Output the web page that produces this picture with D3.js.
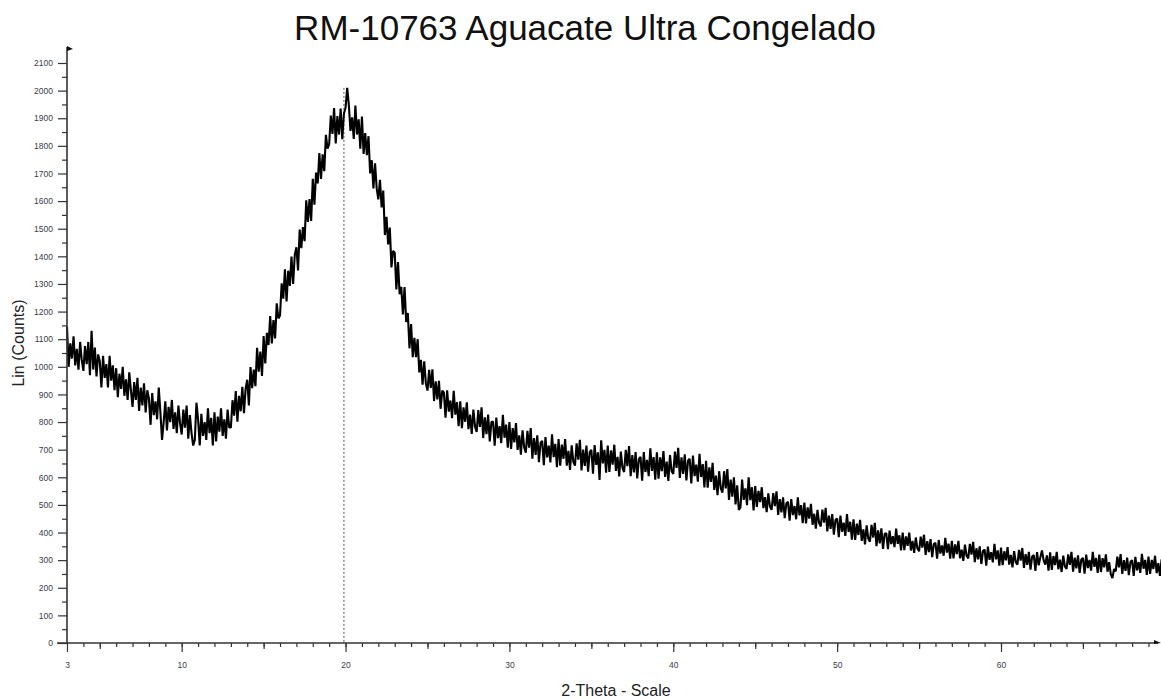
<!DOCTYPE html>
<html>
<head>
<meta charset="utf-8">
<script src="https://cdn.jsdelivr.net/npm/d3@7"></script>
<style>
  body { margin: 0; background: #fff; }
  svg { display: block; font-family: "Liberation Sans", Arial, sans-serif; }
</style>
</head>
<body>
<div id="chart"></div>
<script>
// Diffractogram: one count every 0.1 degree from 3 to 70
const thetaStart = 3;
const thetaStep = 0.1;
const counts = [
  1145, 1000, 1085, 1030, 1110, 1005, 1065, 990, 1090, 1025,   // 3
  985, 1075, 1010, 1090, 970, 1130, 990, 1070, 965, 1045,      // 4
  1020, 925, 1040, 960, 1010, 925, 1040, 950, 1005, 915,       // 5
  995, 890, 975, 920, 1000, 895, 955, 880, 980, 915,           // 6
  855, 945, 880, 960, 840, 925, 860, 940, 835, 915,            // 7
  885, 790, 905, 825, 875, 810, 925, 835, 735, 800,            // 8
  875, 770, 855, 800, 880, 775, 835, 760, 860, 795,            // 9
  755, 845, 780, 860, 740, 825, 760, 715, 735, 870,            // 10
  810, 715, 830, 750, 800, 735, 850, 760, 815, 715,            // 11
  835, 730, 820, 765, 850, 750, 810, 740, 845, 780,            // 12
  780, 879, 823, 912, 801, 895, 839, 928, 832, 921,            // 13
  953, 860, 999, 923, 990, 930, 1069, 982, 1055, 967,          // 14
  1111, 1012, 1123, 1079, 1184, 1085, 1169, 1103, 1230, 1175,  // 15
  1186, 1302, 1247, 1353, 1237, 1348, 1293, 1399, 1300, 1405,  // 16
  1433, 1349, 1497, 1430, 1506, 1455, 1603, 1525, 1607, 1528,  // 17
  1681, 1587, 1703, 1664, 1774, 1680, 1769, 1708, 1840, 1790,  // 18
  1806, 1910, 1843, 1937, 1809, 1908, 1841, 1935, 1824, 1917,  // 19
  1938, 2010, 1948, 1854, 1903, 1825, 1946, 1841, 1896, 1790,  // 20
  1906, 1771, 1846, 1766, 1835, 1700, 1748, 1646, 1737, 1646,  // 21
  1606, 1677, 1577, 1638, 1477, 1543, 1443, 1504, 1360, 1420,  // 22
  1413, 1280, 1379, 1263, 1290, 1190, 1289, 1162, 1195, 1067,  // 23
  1155, 1035, 1105, 1035, 1100, 980, 1025, 935, 1020, 940,     // 24
  914, 989, 924, 991, 876, 947, 882, 949, 848, 914,            // 25
  907, 816, 915, 838, 878, 814, 913, 827, 872, 785,            // 26
  875, 778, 853, 801, 871, 774, 827, 757, 845, 784,            // 27
  764, 843, 782, 853, 742, 817, 756, 827, 730, 800,            // 28
  802, 714, 816, 742, 785, 724, 826, 743, 791, 707,            // 29
  800, 703, 778, 726, 796, 699, 752, 682, 770, 709,            // 30
  689, 768, 707, 778, 667, 742, 681, 752, 655, 725,            // 31
  732, 644, 746, 672, 715, 654, 756, 673, 721, 637,            // 32
  738, 642, 718, 667, 738, 642, 696, 627, 716, 656,            // 33
  642, 723, 664, 736, 625, 700, 641, 715, 620, 691,            // 34
  699, 613, 717, 645, 690, 590, 734, 650, 699, 617,            // 35
  715, 619, 697, 646, 718, 623, 674, 603, 693, 634,            // 36
  619, 699, 640, 713, 604, 680, 618, 691, 596, 666,            // 37
  674, 588, 691, 619, 663, 604, 705, 623, 673, 591,            // 38
  690, 595, 672, 622, 695, 601, 657, 587, 680, 622,            // 39
  612, 693, 634, 707, 598, 672, 612, 683, 589, 660,            // 40
  667, 578, 679, 604, 646, 584, 685, 601, 648, 563,            // 41
  660, 562, 636, 583, 652, 554, 606, 535, 622, 560,            // 42
  544, 622, 560, 630, 518, 592, 530, 600, 502, 571,            // 43
  482, 491, 592, 518, 560, 499, 600, 517, 564, 480,            // 44
  568, 493, 551, 510, 564, 488, 528, 474, 542, 494,            // 45
  482, 543, 496, 549, 464, 521, 473, 527, 452, 506,            // 46
  511, 443, 521, 463, 496, 448, 527, 462, 499, 434,            // 47
  508, 433, 491, 450, 504, 428, 468, 414, 482, 434,            // 48
  422, 483, 436, 489, 404, 461, 413, 467, 392, 446,            // 49
  451, 383, 461, 403, 436, 388, 467, 402, 439, 374,            // 50
  448, 373, 432, 391, 446, 370, 411, 357, 426, 378,            // 51
  367, 428, 382, 435, 351, 408, 361, 415, 341, 395,            // 52
  398, 340, 407, 358, 387, 347, 414, 359, 390, 335,            // 53
  400, 336, 386, 352, 400, 335, 370, 326, 382, 342,            // 54
  332, 385, 345, 392, 319, 369, 329, 376, 311, 358,            // 55
  363, 305, 373, 324, 353, 316, 381, 327, 360, 305,            // 56
  370, 306, 357, 322, 370, 307, 338, 297, 356, 316,            // 57
  306, 359, 320, 366, 293, 343, 303, 350, 286, 333,            // 58
  338, 280, 349, 301, 329, 292, 359, 303, 335, 280,            // 59
  345, 282, 332, 299, 347, 284, 319, 274, 333, 293,            // 60
  284, 337, 298, 344, 272, 322, 283, 330, 266, 313,            // 61
  318, 261, 329, 281, 310, 335, 300, 284, 317, 262,            // 62
  328, 265, 315, 282, 330, 267, 302, 257, 316, 277,            // 63
  268, 321, 283, 330, 258, 309, 270, 317, 254, 302,            // 64
  308, 251, 320, 271, 301, 262, 330, 276, 308, 254,            // 65
  320, 257, 307, 274, 321, 258, 293, 249, 235, 268,            // 66
  259, 313, 274, 322, 250, 300, 261, 309, 246, 294,            // 67
  300, 243, 312, 263, 293, 254, 323, 269, 301, 247,            // 68
  313, 250, 301, 268, 316, 253, 289, 243, 303, 264,            // 69
  280                                                          // 70
];

const peakTheta = 19.9;
const peakCount = 2010;

const yTickValues = d3.range(0, 2101, 100);
const yMinorValues = d3.range(50, 2101, 100);
const xLabelValues = [3, 10, 20, 30, 40, 50, 60];
const xMidValues = [5, 15, 25, 35, 45, 55, 65];
const xMinorValues = d3.range(4, 70, 1);

const titleText = "RM-10763 Aguacate Ultra Congelado";
const xTitle = "2-Theta - Scale";
const yTitle = "Lin (Counts)";

let width = 1161;
let height = 699;

const svg = d3.select("#chart")
  .append("svg")
  .attr("width", width)
  .attr("height", height);

// scales matched to the reference: 3 deg at x=67, 60 deg at x=1001; 0 at y=643, 2100 at y=63
const x = d3.scaleLinear().domain([3, 60]).range([67, 1001]);
const y = d3.scaleLinear().domain([0, 2100]).range([643, 63]);

const data = counts.map((c, i) => ({ theta: thetaStart + i * thetaStep, count: c }));

// dashed marker at the peak
svg.append("line")
  .attr("x1", x(peakTheta)).attr("x2", x(peakTheta))
  .attr("y1", y(peakCount)).attr("y2", y(0))
  .attr("stroke", "#555")
  .attr("stroke-width", 1)
  .attr("stroke-dasharray", "2,2");

// the measurement - noise drawn dense so it reads as a band like the scan
const line = d3.line()
  .x(d => x(d.theta))
  .y(d => y(d.count));

svg.append("path")
  .datum(data)
  .attr("d", line)
  .attr("fill", "none")
  .attr("stroke", "#000")
  .attr("stroke-width", 2.1)
  .attr("stroke-linejoin", "bevel");

// y axis
const yAxisG = svg.append("g").attr("transform", "translate(" + x(3) + ",0)");
yAxisG.append("g")
  .call(d3.axisLeft(y).tickValues(yMinorValues).tickSize(5).tickFormat(""));
yAxisG.append("g")
  .call(d3.axisLeft(y).tickValues(yTickValues).tickSize(9).tickPadding(5).tickFormat(d3.format("d")));

// x axis
const xAxisG = svg.append("g").attr("transform", "translate(0," + y(0) + ")");
xAxisG.append("g")
  .call(d3.axisBottom(x).tickValues(xMinorValues).tickSize(4).tickFormat(""));
xAxisG.append("g")
  .call(d3.axisBottom(x).tickValues(xMidValues).tickSize(6).tickFormat(""));
xAxisG.append("g")
  .call(d3.axisBottom(x).tickValues(xLabelValues).tickSize(9).tickPadding(10).tickFormat(d3.format("d")));

svg.selectAll(".domain").remove();
svg.selectAll(".tick line").attr("stroke", "#333").attr("stroke-width", 1.2);
svg.selectAll(".tick text")
  .attr("fill", "#3a3a4a")
  .style("font-size", "8.5px")
  .style("font-family", "'Liberation Sans', Arial, sans-serif");

// axis lines with small arrow heads
svg.append("line")
  .attr("x1", x(3)).attr("x2", x(3))
  .attr("y1", y(0)).attr("y2", 47)
  .attr("stroke", "#333").attr("stroke-width", 1.6);
svg.append("line")
  .attr("x1", 57).attr("x2", 1158)
  .attr("y1", y(0)).attr("y2", y(0))
  .attr("stroke", "#333").attr("stroke-width", 1.6);
svg.append("path")
  .attr("d", `M${x(3)},46 L${x(3) + 6},49 L${x(3)},51 Z`)
  .attr("fill", "#111");
svg.append("path")
  .attr("d", `M1154,${y(0) - 3} L1161,${y(0)} L1154,${y(0) + 1} Z`)
  .attr("fill", "#111");

// titles
svg.append("text")
  .attr("x", 585).attr("y", 40)
  .attr("text-anchor", "middle")
  .style("font-size", "35px")
  .attr("fill", "#111")
  .text(titleText);

svg.append("text")
  .attr("x", 616).attr("y", 696)
  .attr("text-anchor", "middle")
  .style("font-size", "16px")
  .attr("fill", "#222")
  .text(xTitle);

svg.append("text")
  .attr("transform", "translate(24,343) rotate(-90)")
  .attr("text-anchor", "middle")
  .style("font-size", "16px")
  .attr("fill", "#222")
  .text(yTitle);
</script>
</body>
</html>
